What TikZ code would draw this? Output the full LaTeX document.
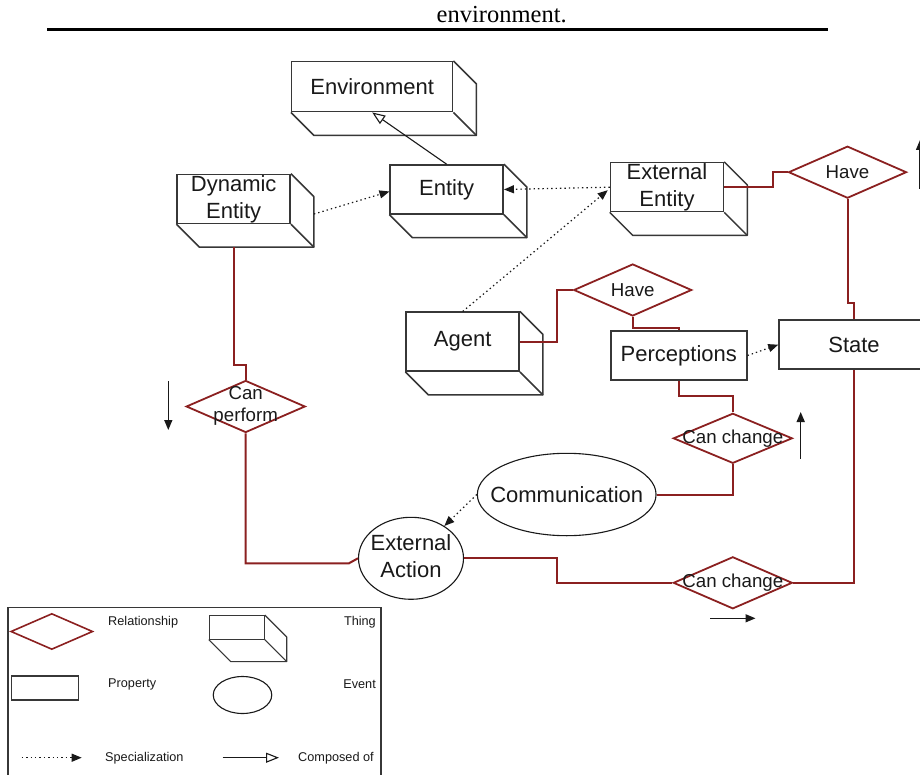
\documentclass[tikz,border=0pt]{standalone}
\usepackage{fontspec}
\setmainfont{Liberation Sans}
\newfontfamily\serifhead{Liberation Serif}
\usetikzlibrary{shapes.geometric,arrows.meta,calc}

\definecolor{relred}{RGB}{139,32,32}
\definecolor{boxgray}{RGB}{55,55,55}
\definecolor{inkc}{RGB}{25,25,25}

% two centred lines that do not widen the surrounding shape
\newcommand{\twoline}[2]{\makebox[0pt]{\begin{tabular}{@{}c@{}}#1\\#2\end{tabular}}}

\begin{document}
\begin{tikzpicture}[x=1pt,y=-1pt,
  font=\fontsize{22}{27}\selectfont, text=inkc,
  thing/.style={draw=boxgray, line width=1.5pt, rectangle, inner sep=0pt, align=center},
  prop/.style={draw=boxgray, line width=1.5pt, rectangle, inner sep=0pt},
  rel/.style={draw=relred, line width=1.8pt, diamond, inner sep=0pt, font=\fontsize{18.7}{22}\selectfont},
  event/.style={draw=inkc, line width=1.1pt, ellipse, inner sep=0pt},
  link/.style={draw=relred, line width=2pt},
  spec/.style={draw=inkc, line width=1.2pt, dash pattern=on 1.4pt off 3pt, -{Triangle[length=10pt,width=8pt]}},
  partof/.style={draw=inkc, line width=1.1pt, -{Triangle[open,length=13pt,width=10pt,fill=white]}},
  hint/.style={draw=inkc, line width=1.5pt, -{Triangle[length=10pt,width=8pt]}},
  legtext/.style={font=\fontsize{12.7}{15}\selectfont, inner sep=0pt},
]
\path[use as bounding box] (0,0) rectangle (920,775);
\clip (0,0) rectangle (920,775);

% heading line of the page
\node[font=\serifhead\fontsize{24.5}{28}\selectfont, anchor=base, inner sep=0pt, text=black] (head) at (501.7,22.5) {environment.};
\coordinate (r0) at (47,29.5);
\coordinate (r1) at (828,29.5);
\draw[line width=3.2pt] (r0) -- (r1);

% things (front faces)
\node[thing, minimum width=161, minimum height=50] (env) at (372.2,86.7) {Environment};
\node[thing, minimum width=113, minimum height=49] (ent) at (446.7,189.5) {Entity};
\node[thing, minimum width=113, minimum height=49] (dyn) at (233.7,199) {Dynamic\\Entity};
\node[thing, minimum width=113, minimum height=49] (ext) at (667,187.2) {External\\Entity};
\node[thing, minimum width=113, minimum height=59] (agt) at (462.7,341.7) {Agent};

% properties
\node[prop, minimum width=136, minimum height=49] (perc) at (678.8,355.5) {Perceptions};
\node[prop, minimum width=150, minimum height=49] (state) at (854,344.7) {State};

% relationships
\node[rel, minimum width=118, minimum height=52] (have1) at (847.5,172.2) {\makebox[0pt]{Have}};
\node[rel, minimum width=118, minimum height=52] (have2) at (632.7,290) {\makebox[0pt]{Have}};
\node[rel, minimum width=119, minimum height=52] (cp) at (245.7,406.5) {\twoline{Can}{perform}};
\node[rel, minimum width=119, minimum height=50] (cc1) at (732.8,438.3) {\makebox[0pt]{Can change}};
\node[rel, minimum width=119, minimum height=52] (cc2) at (732.8,582.8) {\makebox[0pt]{Can change}};

% events
\node[event, minimum width=178.7, minimum height=82.4] (comm) at (566.7,494.5) {\makebox[0pt]{Communication}};
\node[event, minimum width=105, minimum height=82] (ea) at (411,558.3) {\twoline{External}{Action}};

% legend
\draw[boxgray, line width=1.1pt] (8,776) -- (8,607.5) -- (381,607.5) -- (381,776);
\node[rel, minimum width=82, minimum height=36, line width=1.6pt] (ldia) at (51.8,631.5) {};
\node[thing, minimum width=55, minimum height=23.5, line width=1.1pt] (lthing) at (236.7,627.3) {};
\node[prop, minimum width=67, minimum height=24, line width=1.1pt] (lprop) at (45.3,688) {};
\node[event, minimum width=58.5, minimum height=37] (levent) at (242.5,695) {};
\node[legtext, anchor=west] (lrelt) at (108,622.5) {Relationship};
\node[legtext, anchor=east] (lthingt) at (376,622.5) {Thing};
\node[legtext, anchor=west] (lpropt) at (108,684) {Property};
\node[legtext, anchor=east] (leventt) at (376,684) {Event};
\node[legtext, anchor=west] (lspect) at (105,758) {Specialization};
\node[legtext, anchor=west] (lpartt) at (298,758) {Composed of};
\coordinate (ls0) at (21.7,757.7);
\coordinate (ls1) at (81.7,757.7);
\draw[spec] (ls0) -- (ls1);
\coordinate (lp0) at (222.7,757.7);
\coordinate (lp1) at (279,757.7);
\draw[partof] (lp0) -- (lp1);

% depth of every thing box
\foreach \n/\d/\w in {env/23/1.5,ent/23/1.5,dyn/23/1.5,ext/23/1.5,agt/23/1.5,lthing/22/1.1}{
  \draw[boxgray, line width=\w pt, line join=round]
    (\n.north east) -- ++(\d,\d) |- ($(\n.south west)+(\d,\d)$) -- (\n.south west);
  \draw[boxgray, line width=\w pt] (\n.south east) -- ++(\d,\d);
}

% relationship links
\draw[link] (ext.east) -- ++(48.4,0) |- (have1.west);
\draw[link] (have1.south) -- ++(0,104) -| (state.north);
\draw[link] (state.south) |- (cc2.east);
\draw[link] (agt.east) -- ++(37.4,0) |- (have2.west);
\draw[link] (have2.south) -- ++(0,10.7) -| (perc.north);
\draw[link] (perc.south) -- ++(0,15) -| (cc1.north);
\draw[link] (cc1.south) |- (comm.east);
\draw[link] ($(dyn.south)+(0,23)$) -- ++(0,118) -| (cp.north);
\draw[link] (cp.south) |- ([xshift=-9pt,yshift=-5pt]ea.west) -- (ea.west);
\draw[link] (ea.east) -- ++(93.4,0) |- (cc2.west);

% specialization and composition
\draw[spec] ($(dyn.east)+(23,15)$) -- ($(ent.west)+(0,2)$);
\draw[spec] (ext.west) -- (ent.east);
\draw[spec] (agt.north) -- ($(ext.west)+(-2,3)$);
\draw[spec] (perc.east) -- (state.west);
\draw[spec] (comm.west) -- (ea);
\draw[partof] (ent.north) -- (env.south);

% direction hints
\coordinate (h1a) at (168.3,381);
\coordinate (h1b) at (168.3,430);
\draw[hint] (h1a) -- (h1b);
\coordinate (h2a) at (800.7,458.5);
\coordinate (h2b) at (800.7,412);
\draw[hint] (h2a) -- (h2b);
\coordinate (h3a) at (710,618.3);
\coordinate (h3b) at (755.5,618.3);
\draw[hint] (h3a) -- (h3b);
\coordinate (h4a) at (920,189);
\coordinate (h4b) at (920,140);
\draw[hint] (h4a) -- (h4b);
\end{tikzpicture}
\end{document}
